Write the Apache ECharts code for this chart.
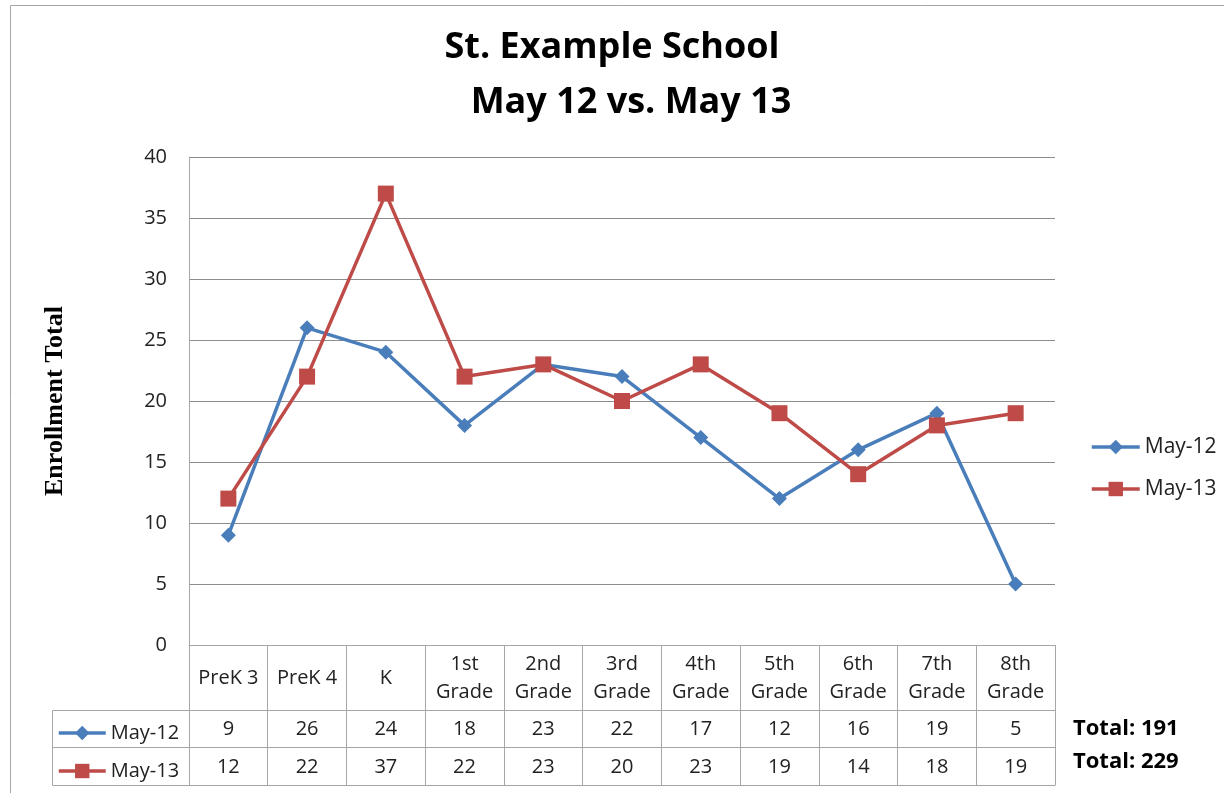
<!DOCTYPE html>
<html>
<head>
<meta charset="utf-8">
<script src="https://cdn.jsdelivr.net/npm/echarts@6/dist/echarts.min.js"></script>
<style>
  html, body { margin: 0; padding: 0; background: #fff; }
  #chart { width: 1224px; height: 793px; }
</style>
</head>
<body>
<div id="chart"></div>
<script>
// 年级分类
const categories = ['PreK 3', 'PreK 4', 'K', '1st\nGrade', '2nd\nGrade', '3rd\nGrade', '4th\nGrade', '5th\nGrade', '6th\nGrade', '7th\nGrade', '8th\nGrade'];
const may12 = [9, 26, 24, 18, 23, 22, 17, 12, 16, 19, 5];
const may13 = [12, 22, 37, 22, 23, 20, 23, 19, 14, 18, 19];
const seriesNames = ['May-12', 'May-13'];
const yTicks = { min: 0, max: 40, interval: 5 };

const blue = '#4A7EBB';
const red = '#BE4B48';
const border = '#A6A6A6';
const font = 'Open Sans';
const labelSize = 20;

const sum = (arr) => arr.reduce((a, b) => a + b, 0);

const chart = echarts.init(document.getElementById('chart'));

// 数据表的一行：和主 x 轴共用网格，往下偏移
function tableAxis(offset, values, tickLen, margin) {
  return {
    type: 'category',
    position: 'bottom',
    offset: offset,
    data: values,
    boundaryGap: true,
    axisLine: { show: true, lineStyle: { color: border, width: 1 } },
    axisTick: { show: tickLen > 0, interval: 0, length: tickLen, lineStyle: { color: border } },
    axisLabel: {
      show: true,
      interval: 0,
      margin: margin,
      verticalAlign: 'middle',
      fontFamily: font,
      fontSize: labelSize,
      color: '#222'
    },
    splitLine: { show: false }
  };
}

const legendBase = {
  data: seriesNames,
  orient: 'vertical',
  itemWidth: 48,
  itemHeight: 18,
  lineStyle: { width: 3.5 },
  textStyle: { fontFamily: font, fontSize: 21, color: '#222', lineHeight: 22 }
};

const option = {
  backgroundColor: '#fff',
  animation: false,
  title: [
    {
      text: 'St. Example School',
      left: 'center',
      top: 25,
      textStyle: { fontFamily: font, fontWeight: 'bold', fontSize: 36, color: '#000' }
    },
    {
      text: 'May 12 vs. May 13',
      left: 626,
      textAlign: 'center',
      top: 80,
      textStyle: { fontFamily: font, fontWeight: 'bold', fontSize: 36, color: '#000' }
    }
  ],
  legend: [
    Object.assign({}, legendBase, { left: 1085, top: 431, itemGap: 20 }),
    Object.assign({}, legendBase, {
      left: 52, top: 717, itemGap: 16, itemWidth: 47, selectedMode: false,
      textStyle: { fontFamily: font, fontSize: 20, color: '#222', lineHeight: 22 }
    })
  ],
  grid: { left: 189, right: 169, top: 157, bottom: 148, containLabel: false },
  xAxis: [
    {
      type: 'category',
      data: categories,
      boundaryGap: true,
      axisLine: { show: true, lineStyle: { color: border } },
      axisTick: { show: true, interval: 0, length: 65, lineStyle: { color: border } },
      axisLabel: {
        interval: 0,
        margin: 33,
        verticalAlign: 'middle',
        lineHeight: 28,
        fontFamily: font,
        fontSize: labelSize,
        color: '#222'
      }
    },
    tableAxis(65, may12.map(String), 37, 19),
    tableAxis(102, may13.map(String), 38, 20),
    Object.assign(tableAxis(140, categories, 0, 0), { axisLabel: { show: false } })
  ],
  yAxis: {
    type: 'value',
    min: yTicks.min,
    max: yTicks.max,
    interval: yTicks.interval,
    name: 'Enrollment Total',
    nameLocation: 'middle',
    nameGap: 121,
    nameTextStyle: { fontFamily: 'Liberation Serif', fontWeight: 'bold', fontSize: 26, color: '#000' },
    axisLine: { show: true, lineStyle: { color: border } },
    axisTick: { show: false },
    axisLabel: { margin: 22, fontFamily: font, fontSize: labelSize, color: '#222' },
    splitLine: { show: true, lineStyle: { color: '#8C8C8C', width: 1 } }
  },
  series: [
    {
      name: seriesNames[0],
      type: 'line',
      data: may12,
      symbol: 'diamond',
      symbolSize: 15,
      lineStyle: { color: blue, width: 3.5 },
      itemStyle: { color: blue }
    },
    {
      name: seriesNames[1],
      type: 'line',
      data: may13,
      symbol: 'rect',
      symbolSize: 16,
      lineStyle: { color: red, width: 3.5 },
      itemStyle: { color: red }
    }
  ],
  graphic: [
    // 外框
    {
      type: 'rect',
      shape: { x: 10.5, y: 5.5, width: 1240, height: 800 },
      style: { fill: 'none', stroke: border, lineWidth: 1 },
      silent: true
    },
    // 数据表左侧图例列
    {
      type: 'rect',
      shape: { x: 52.5, y: 710.5, width: 137, height: 75 },
      style: { fill: 'none', stroke: border, lineWidth: 1 },
      silent: true
    },
    {
      type: 'line',
      shape: { x1: 52.5, y1: 747.5, x2: 189.5, y2: 747.5 },
      style: { stroke: border, lineWidth: 1 },
      silent: true
    },
    {
      type: 'text',
      left: 1073,
      top: 718,
      style: { text: 'Total: ' + sum(may12), font: 'bold 22px ' + font, fill: '#000' }
    },
    {
      type: 'text',
      left: 1073,
      top: 751,
      style: { text: 'Total: ' + sum(may13), font: 'bold 22px ' + font, fill: '#000' }
    }
  ]
};

chart.setOption(option);
</script>
</body>
</html>
